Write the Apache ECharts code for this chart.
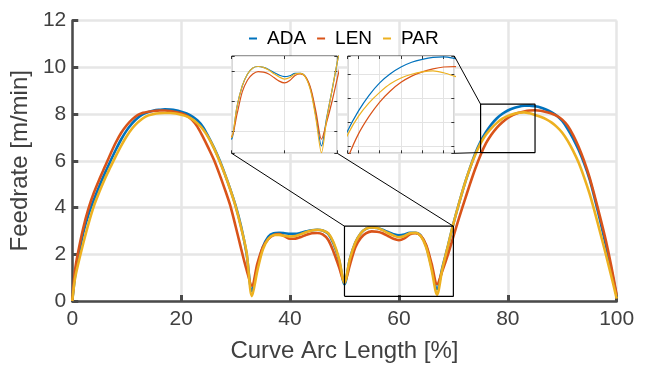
<!DOCTYPE html>
<html><head><meta charset="utf-8">
<script src="https://cdn.jsdelivr.net/npm/echarts@6/dist/echarts.min.js"></script>
<style>html,body{margin:0;padding:0;background:#fff}#c{width:646px;height:368px}</style>
</head><body><div id="c"></div>
<script>
// ---- data ----
const arcLength = [0,0.5,1,2,3,4,5,6,7,8,9,10,11,12,13,14,15,16,17,18,
  19,20,21,22,23,24,25,26,27,28,29,30,31,32,
  33,34,35,36,37,38,39,40,41,42,43,44,45,46,47,48,49,50,
  51,52,53,54,55,56,57,58,59,60,61,62,63,64,65,66,67,
  68,69,70,71,72,73,74,75,76,77,78,79,80,81,82,83,84,85,
  86,87,88,89,90,91,92,93,94,95,96,97,98,99,100];
const ada = [0,1.05,1.75,2.9,3.72,4.35,4.93,5.47,5.98,6.47,6.92,7.3,7.6,7.83,7.99,8.09,8.15,8.18,8.2,8.19,
  8.16,8.1,8.02,7.9,7.72,7.45,7.03,6.57,6.05,5.45,4.8,4.08,3.2,2.05,
  0.42,1.45,2.3,2.75,2.9,2.92,2.9,2.87,2.87,2.92,2.98,3.03,3.05,3.02,2.88,2.45,1.75,0.72,
  1.8,2.5,2.9,3.1,3.15,3.12,3.05,2.95,2.86,2.81,2.84,2.92,2.92,2.8,2.35,1.45,0.5,
  1.45,2.35,3.3,4.15,4.95,5.65,6.3,6.82,7.23,7.56,7.82,8.01,8.15,8.25,8.31,8.35,8.36,8.33,
  8.28,8.19,8.08,7.93,7.7,7.36,6.95,6.47,5.9,5.22,4.35,3.4,2.4,1.35,0.2];
const len = [0,1.3,2.0,3.1,3.97,4.65,5.22,5.75,6.28,6.78,7.2,7.52,7.77,7.95,8.05,8.1,8.13,8.15,8.15,8.13,
  8.09,8.03,7.93,7.75,7.45,7.02,6.55,6.05,5.45,4.8,4.1,3.2,2.25,1.35,
  0.65,1.6,2.3,2.65,2.82,2.86,2.77,2.66,2.67,2.74,2.83,2.9,2.91,2.85,2.62,2.1,1.45,0.8,
  1.55,2.3,2.7,2.9,2.98,2.96,2.9,2.78,2.66,2.6,2.68,2.85,2.9,2.8,2.4,1.6,0.72,
  1.3,1.98,2.75,3.52,4.25,4.97,5.65,6.25,6.75,7.12,7.42,7.65,7.83,7.96,8.05,8.11,8.15,8.16,
  8.14,8.09,8.02,7.92,7.76,7.5,7.1,6.6,6.0,5.3,4.45,3.55,2.6,1.5,0.25];
const par = [0,0.95,1.5,2.45,3.32,4.08,4.68,5.23,5.72,6.2,6.65,7.05,7.38,7.63,7.82,7.94,8.0,8.03,8.04,8.04,
  8.02,7.97,7.9,7.78,7.6,7.35,7.0,6.55,6.02,5.43,4.78,4.05,3.15,2.1,
  0.21,1.3,2.2,2.65,2.82,2.83,2.79,2.76,2.78,2.86,2.95,3.02,3.05,3.02,2.9,2.5,1.8,0.78,
  1.8,2.5,2.9,3.1,3.15,3.12,3.03,2.91,2.8,2.73,2.78,2.9,2.92,2.78,2.3,1.35,0.27,
  1.4,2.35,3.3,4.15,4.95,5.65,6.25,6.74,7.12,7.4,7.62,7.8,7.92,8.0,8.05,8.07,8.03,7.96,
  7.88,7.78,7.64,7.45,7.2,6.85,6.42,5.92,5.3,4.6,3.78,2.9,2.0,1.07,0.1];
const seriesNames = ['ADA','LEN','PAR'];
const seriesColors = ['#0072BD','#D95319','#EDB120'];
const xRange = [0,100], xStep = 20;
const yRange = [0,12], yStep = 2;
// zoom boxes on the main axes and the ranges of the two insets
const boxA = {x:[50,70], y:[0.2,3.2]};
const insetA = {x:[50,70], y:[0.25,3.5], xStep:10, yStep:1};
const boxB = {x:[75,85], y:[6.35,8.42]};
const insetB = {x:[75,85], y:[6.35,8.38], xStep:2, yStep:0.5};

const FONT = "'Liberation Sans', Arial, Helvetica, sans-serif";
const AX = '#4a4a4a';
const values = [ada, len, par];
const pairs = values.map(v => arcLength.map((x,i) => [x, v[i]]));

const chart = echarts.init(document.getElementById('c'), null, {renderer:'canvas'});

function insetAxes(grid, r, isX) {
  const base = {
    gridIndex: grid, type: 'value', min: r[isX?'x':'y'][0], max: r[isX?'x':'y'][1],
    minInterval: r[isX?'xStep':'yStep'], maxInterval: r[isX?'xStep':'yStep'],
    axisLabel: {show:false}, axisLine: {show:false},
    axisTick: {show:true, inside:true, length:3, lineStyle:{color:'#333', width:1}},
    z: 4
  };
  const a = Object.assign({}, base, {position: isX?'bottom':'left',
    splitLine:{show:true, lineStyle:{color:'#e3e3e3', width:1}}});
  const b = Object.assign({}, base, {position: isX?'top':'right', splitLine:{show:false}});
  return [a, b];
}

const xAxes = [{
  gridIndex:0, type:'value', min:xRange[0], max:xRange[1], interval:xStep,
  name:'Curve Arc Length [%]', nameLocation:'middle', nameGap:38,
  nameTextStyle:{fontSize:24, color:'#404040', fontFamily:FONT},
  axisLine:{show:true, onZero:false, lineStyle:{color:AX, width:2.5}},
  axisTick:{show:true, inside:true, length:6, lineStyle:{color:AX, width:3}},
  axisLabel:{fontSize:21, color:'#404040', fontFamily:FONT, margin:8},
  splitLine:{show:true, lineStyle:{color:'#e6e6e6', width:2.5}}, z:0
}].concat(insetAxes(1, insetA, true), insetAxes(2, insetB, true));

const yAxes = [{
  gridIndex:0, type:'value', min:yRange[0], max:yRange[1], interval:yStep,
  name:'Feedrate [m/min]', nameLocation:'middle', nameGap:27,
  nameTextStyle:{fontSize:24, color:'#404040', fontFamily:FONT},
  axisLine:{show:true, lineStyle:{color:AX, width:2.5}},
  axisTick:{show:true, inside:true, length:6, lineStyle:{color:AX, width:3}},
  axisLabel:{fontSize:21, color:'#404040', fontFamily:FONT, margin:6},
  splitLine:{show:true, lineStyle:{color:'#e6e6e6', width:2.5}}, z:0
}].concat(insetAxes(1, insetA, false), insetAxes(2, insetB, false));

const series = [];
seriesNames.forEach((n,i) => {
  series.push({name:n, type:'line', xAxisIndex:0, yAxisIndex:0, data:pairs[i], smooth:0.3,
    showSymbol:false, symbol:'none', lineStyle:{color:seriesColors[i], width:2.6}, itemStyle:{color:seriesColors[i]}, z:2});
});
seriesNames.forEach((n,i) => {
  series.push({name:n, type:'line', xAxisIndex:1, yAxisIndex:1, data:pairs[i], smooth:0.3, clip:true,
    showSymbol:false, symbol:'none', lineStyle:{color:seriesColors[i], width:1.2}, itemStyle:{color:seriesColors[i]}, z:5});
  series.push({name:n, type:'line', xAxisIndex:3, yAxisIndex:3, data:pairs[i], smooth:0.3, clip:true,
    showSymbol:false, symbol:'none', lineStyle:{color:seriesColors[i], width:1.2}, itemStyle:{color:seriesColors[i]}, z:5});
});
[boxA, boxB].forEach(b => {
  series.push({type:'line', xAxisIndex:0, yAxisIndex:0, silent:true, symbol:'none', z:6,
    data:[[b.x[0],b.y[0]],[b.x[1],b.y[0]],[b.x[1],b.y[1]],[b.x[0],b.y[1]],[b.x[0],b.y[0]]],
    lineStyle:{color:'#000', width:1.2}});
});

chart.setOption({
  animation:false,
  backgroundColor:'#fff',
  textStyle:{fontFamily:FONT},
  legend:{data:seriesNames, left:244, top:24, icon:'rect', itemWidth:8, itemHeight:2, itemGap:11,
    textStyle:{fontSize:19, color:'#000', fontFamily:FONT, padding:[0,0,0,5]}, selectedMode:false},
  grid:[
    {left:68.3, top:20.5, right:29.3, bottom:64.7, containLabel:false},
    {left:231.7, top:56, width:105.6, height:97.3, show:true, backgroundColor:'#fff', borderColor:'#333', borderWidth:1, z:3},
    {left:347.7, top:56, width:106.6, height:97.3, show:true, backgroundColor:'#fff', borderColor:'#333', borderWidth:1, z:3}
  ],
  xAxis:xAxes, yAxis:yAxes, series:series
});

// connector lines between insets and zoom boxes
function px(xi, yi, p){ return chart.convertToPixel({xAxisIndex:xi, yAxisIndex:yi}, p); }
const segs = [
  [px(1,1,[insetA.x[0],insetA.y[0]]), px(0,0,[boxA.x[0],boxA.y[1]])],
  [px(1,1,[insetA.x[1],insetA.y[0]]), px(0,0,[boxA.x[1],boxA.y[1]])],
  [px(3,3,[insetB.x[1],insetB.y[1]]), px(0,0,[boxB.x[0],boxB.y[1]])],
  [px(3,3,[insetB.x[1],insetB.y[0]]), px(0,0,[boxB.x[0],boxB.y[0]])]
];
chart.setOption({graphic: segs.map(s => ({type:'line', silent:true, z:100,
  shape:{x1:s[0][0], y1:s[0][1], x2:s[1][0], y2:s[1][1]}, style:{stroke:'#000', lineWidth:1}}))});
</script></body></html>
